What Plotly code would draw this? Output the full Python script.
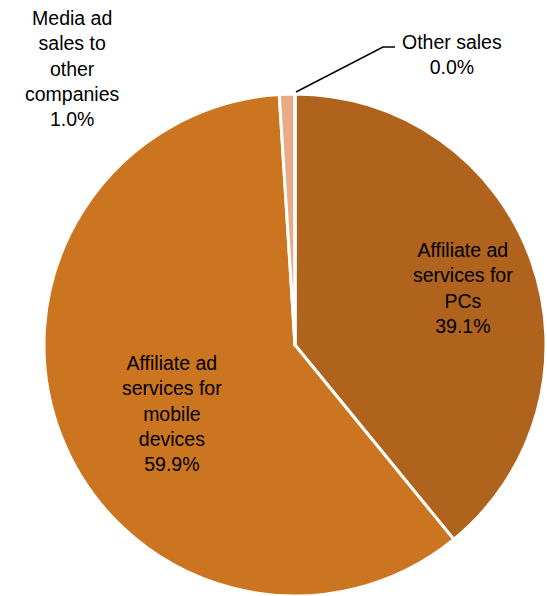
import plotly.graph_objects as go

# Revenue share by business line (percent)
categories = [
    "Affiliate ad services for PCs",
    "Affiliate ad services for mobile devices",
    "Media ad sales to other companies",
    "Other sales",
]
label_lines = [
    ["Affiliate ad", "services for", "PCs"],
    ["Affiliate ad", "services for", "mobile", "devices"],
    ["Media ad", "sales to", "other", "companies"],
    ["Other sales"],
]
shares = [39.1, 59.9, 1.0, 0.0]
colors = ["#AF631C", "#CC7521", "#E9AA86", "#A5A5A5"]

W, H = 547, 596

fig = go.Figure(
    go.Pie(
        labels=categories,
        values=shares,
        sort=False,
        direction="clockwise",
        rotation=0,
        marker=dict(colors=colors, line=dict(color="white", width=3)),
        textinfo="none",
        hoverinfo="label+percent",
        showlegend=False,
        domain=dict(x=[44 / W, 546 / W], y=[0, 1 - 94 / H]),
    )
)

# label anchor points in pixels (centre of text block)
label_pos = [(463, 288), (172, 413), (72, 69), (452, 54)]
font = dict(family="Liberation Sans, Arial, sans-serif", size=19.5, color="#000000")

for lines, val, (px, py) in zip(label_lines, shares, label_pos):
    text = "<br>".join(lines) + f"<br>{val:.1f}%"
    fig.add_annotation(
        x=px / W, y=1 - py / H, xref="paper", yref="paper",
        text=text, showarrow=False, font=font,
        xanchor="center", yanchor="middle", align="center",
    )

# leader line for the zero-size slice
fig.add_shape(
    type="path", xref="paper", yref="paper",
    path=f"M {296/W},{1-92/H} L {383/W},{1-47/H} L {395/W},{1-47/H}",
    line=dict(color="black", width=1.5),
)

fig.update_layout(
    width=W, height=H,
    margin=dict(l=0, r=0, t=0, b=0),
    paper_bgcolor="white",
    plot_bgcolor="white",
)

fig.write_html("out.html")
